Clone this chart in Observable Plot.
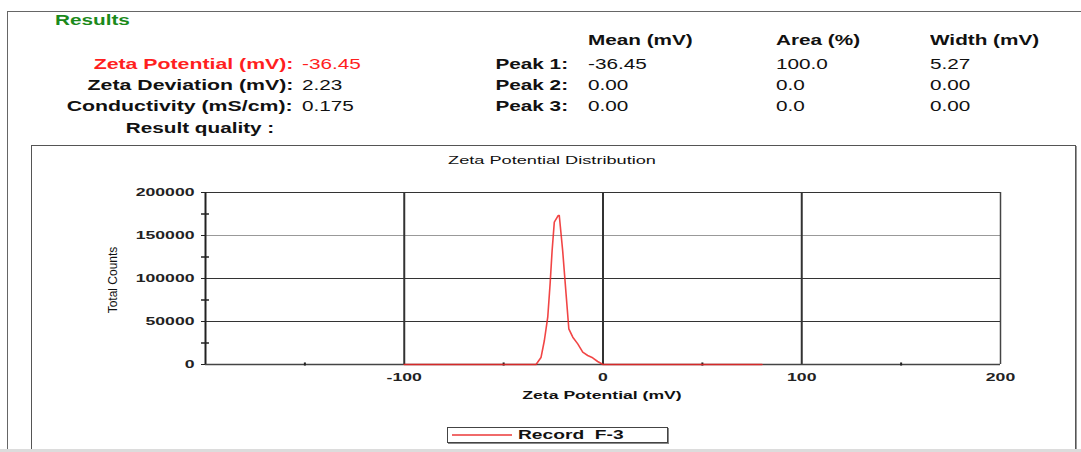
<!DOCTYPE html>
<html>
<head>
<meta charset="utf-8">
<script src="https://cdn.jsdelivr.net/npm/d3@7"></script>
<script src="https://cdn.jsdelivr.net/npm/@observablehq/plot@0.6"></script>
<style>
  html, body { margin: 0; padding: 0; background: #fff; }
  #page { position: relative; width: 1081px; height: 452px; overflow: hidden; font-family: "Liberation Sans", Arial, sans-serif; color: #111; }
  .t { position: absolute; white-space: pre; line-height: 16px; height: 16px; }
  .b { font-weight: bold; }
</style>
</head>
<body>
<div id="page"></div>
<script>
// ---- data ----
const resultLabels = ["Zeta Potential (mV):", "Zeta Deviation (mV):", "Conductivity (mS/cm):", "Result quality :"];
const resultValues = ["-36.45", "2.23", "0.175", ""];
const peakHeaders = ["Mean (mV)", "Area (%)", "Width (mV)"];
const peakLabels = ["Peak 1:", "Peak 2:", "Peak 3:"];
const peakMean = ["-36.45", "0.00", "0.00"];
const peakArea = ["100.0", "0.0", "0.0"];
const peakWidth = ["5.27", "0.00", "0.00"];

const zeta =   [-100, -60, -33.7, -31.2, -29.5, -27.8, -26.6, -25.6, -24.5, -22.5, -22.0, -20.3, -18.6, -17.2, -15.2, -12.7, -10.2, -7.7, -5.2, -2.7, 0, 40, 80];
const counts = [0, 0, 0, 8100, 27900, 55000, 94200, 132600, 165500, 173300, 173300, 132600, 82600, 41500, 31800, 24000, 14300, 10500, 7800, 3500, 0, 0, 0];

const xTicks = [-100, 0, 100, 200];
const xMinor = [-150, -50, 50, 150];
const yTicks = [0, 50000, 100000, 150000, 200000];
const yMinor = [25000, 75000, 125000, 175000];
const seriesName = "Record  F-3";

// ---- page ----
const page = document.getElementById("page");
const W = 1081;

function box(css) {
  const d = document.createElement("div");
  d.style.position = "absolute";
  Object.assign(d.style, css);
  page.appendChild(d);
  return d;
}
function txt(s, x, y, o = {}) {
  const d = document.createElement("div");
  d.className = "t" + (o.bold ? " b" : "");
  d.textContent = s;
  d.style.fontSize = (o.size || 14) + "px";
  d.style.color = o.color || "#111";
  d.style.top = (y - 8) + "px";
  const sx = o.sx || 1.48;
  const a = o.anchor || "start";
  if (a === "start") {
    d.style.left = x + "px";
    d.style.transformOrigin = "left center";
    d.style.transform = `scaleX(${sx})`;
  } else if (a === "end") {
    d.style.right = (W - x) + "px";
    d.style.transformOrigin = "right center";
    d.style.transform = `scaleX(${sx})`;
  } else {
    d.style.left = x + "px";
    d.style.transformOrigin = "center center";
    d.style.transform = `translateX(-50%) scaleX(${sx})`;
  }
  page.appendChild(d);
  return d;
}

// frames
box({left: "7px", top: "11px", width: "1080px", height: "450px", borderTop: "1px solid #666", borderLeft: "1px solid #666"});
box({left: "31px", top: "145px", width: "1043px", height: "320px", border: "1.5px solid #555", boxShadow: "1px 1px 0 #999"});
box({left: "0px", top: "449px", width: "1081px", height: "3px", background: "#dcdcdc"});

// header
txt("Results", 55, 20, {bold: true, color: "#1b8a1b"});
const rowY = [64, 85, 106, 128];
resultLabels.forEach((s, i) => {
  if (i < 3) txt(s, 293, rowY[i], {bold: true, anchor: "end", color: i === 0 ? "#ff1f1f" : "#111", sx: 1.52});
  else txt(s, 200, rowY[i], {bold: true, anchor: "middle"});
  if (resultValues[i]) txt(resultValues[i], 302, rowY[i], {color: i === 0 ? "#ff1f1f" : "#111"});
});
const colX = [588, 776, 930];
peakHeaders.forEach((s, i) => txt(s, colX[i], 40, {bold: true}));
peakLabels.forEach((s, i) => {
  txt(s, 568, rowY[i], {bold: true, anchor: "end"});
  txt(peakMean[i], colX[0], rowY[i]);
  txt(peakArea[i], colX[1], rowY[i]);
  txt(peakWidth[i], colX[2], rowY[i]);
});

// chart title, axis labels
txt("Zeta Potential Distribution", 552, 160, {size: 11, anchor: "middle", sx: 1.65});
txt("Zeta Potential (mV)", 602, 395, {size: 11, bold: true, anchor: "middle", sx: 1.6});
const yl = document.createElement("div");
yl.className = "t";
yl.textContent = "Total Counts";
Object.assign(yl.style, {fontSize: "12px", left: "113px", top: "272px", transformOrigin: "center center", transform: "translateX(-50%) rotate(-90deg)", color: "#111"});
page.appendChild(yl);

// legend
box({left: "447px", top: "427px", width: "219px", height: "14px", border: "1.5px solid #444", boxShadow: "1px 1px 0 #888", background: "#fff"});
box({left: "452px", top: "434px", width: "60px", height: "2px", background: "#f06a6a"});
txt(seriesName, 518, 435, {size: 12, bold: true, sx: 1.6});

// ---- plot ----
const data = zeta.map((z, i) => ({z, c: counts[i]}));
const svg = Plot.plot({
  width: 1081, height: 452,
  marginLeft: 205, marginRight: 81, marginTop: 192, marginBottom: 88,
  x: {domain: [-200, 200]},
  y: {domain: [0, 200000]},
  style: {fontFamily: "Liberation Sans, Arial, sans-serif", fontSize: "11px", color: "#222", background: "transparent", overflow: "visible"},
  marks: [
    Plot.ruleY([50000, 100000, 200000], {stroke: "#333", strokeWidth: 1}),
    Plot.ruleY([150000], {stroke: "#999", strokeWidth: 1}),
    Plot.ruleX([-100, 0, 100], {stroke: "#333", strokeWidth: 2}),
    Plot.ruleX([200], {stroke: "#444", strokeWidth: 1.5}),
    Plot.ruleY([0], {stroke: "#444", strokeWidth: 1.5}),
    Plot.ruleX([-200], {stroke: "#222", strokeWidth: 2}),
    Plot.ruleY(yMinor, {x1: -202, x2: -198, stroke: "#222", strokeWidth: 1.5}),
    Plot.ruleX(xMinor, {y1: -1800, y2: 1800, stroke: "#222", strokeWidth: 2}),
    Plot.line(data, {x: "z", y: "c", stroke: "#ee2424", strokeWidth: 1.6, strokeOpacity: 0.85}),
    Plot.axisY(yTicks, {tickSize: 4, tickPadding: 7, tickFormat: d => String(d), fontWeight: "bold", label: null, stroke: "#222"}),
    Plot.axisX(xTicks, {tickSize: 0, tickPadding: 9, tickFormat: d => String(d), fontWeight: "bold", label: null})
  ]
});
svg.style.position = "absolute";
svg.style.left = "0px";
svg.style.top = "0px";
page.appendChild(svg);

// stretch tick labels horizontally like the source (keeps their anchors)
svg.querySelectorAll("text").forEach(el => {
  try {
    const len = el.getComputedTextLength();
    if (len > 0) {
      el.setAttribute("textLength", (len * 1.6).toFixed(1));
      el.setAttribute("lengthAdjust", "spacingAndGlyphs");
    }
  } catch (e) {}
});
</script>
</body>
</html>
